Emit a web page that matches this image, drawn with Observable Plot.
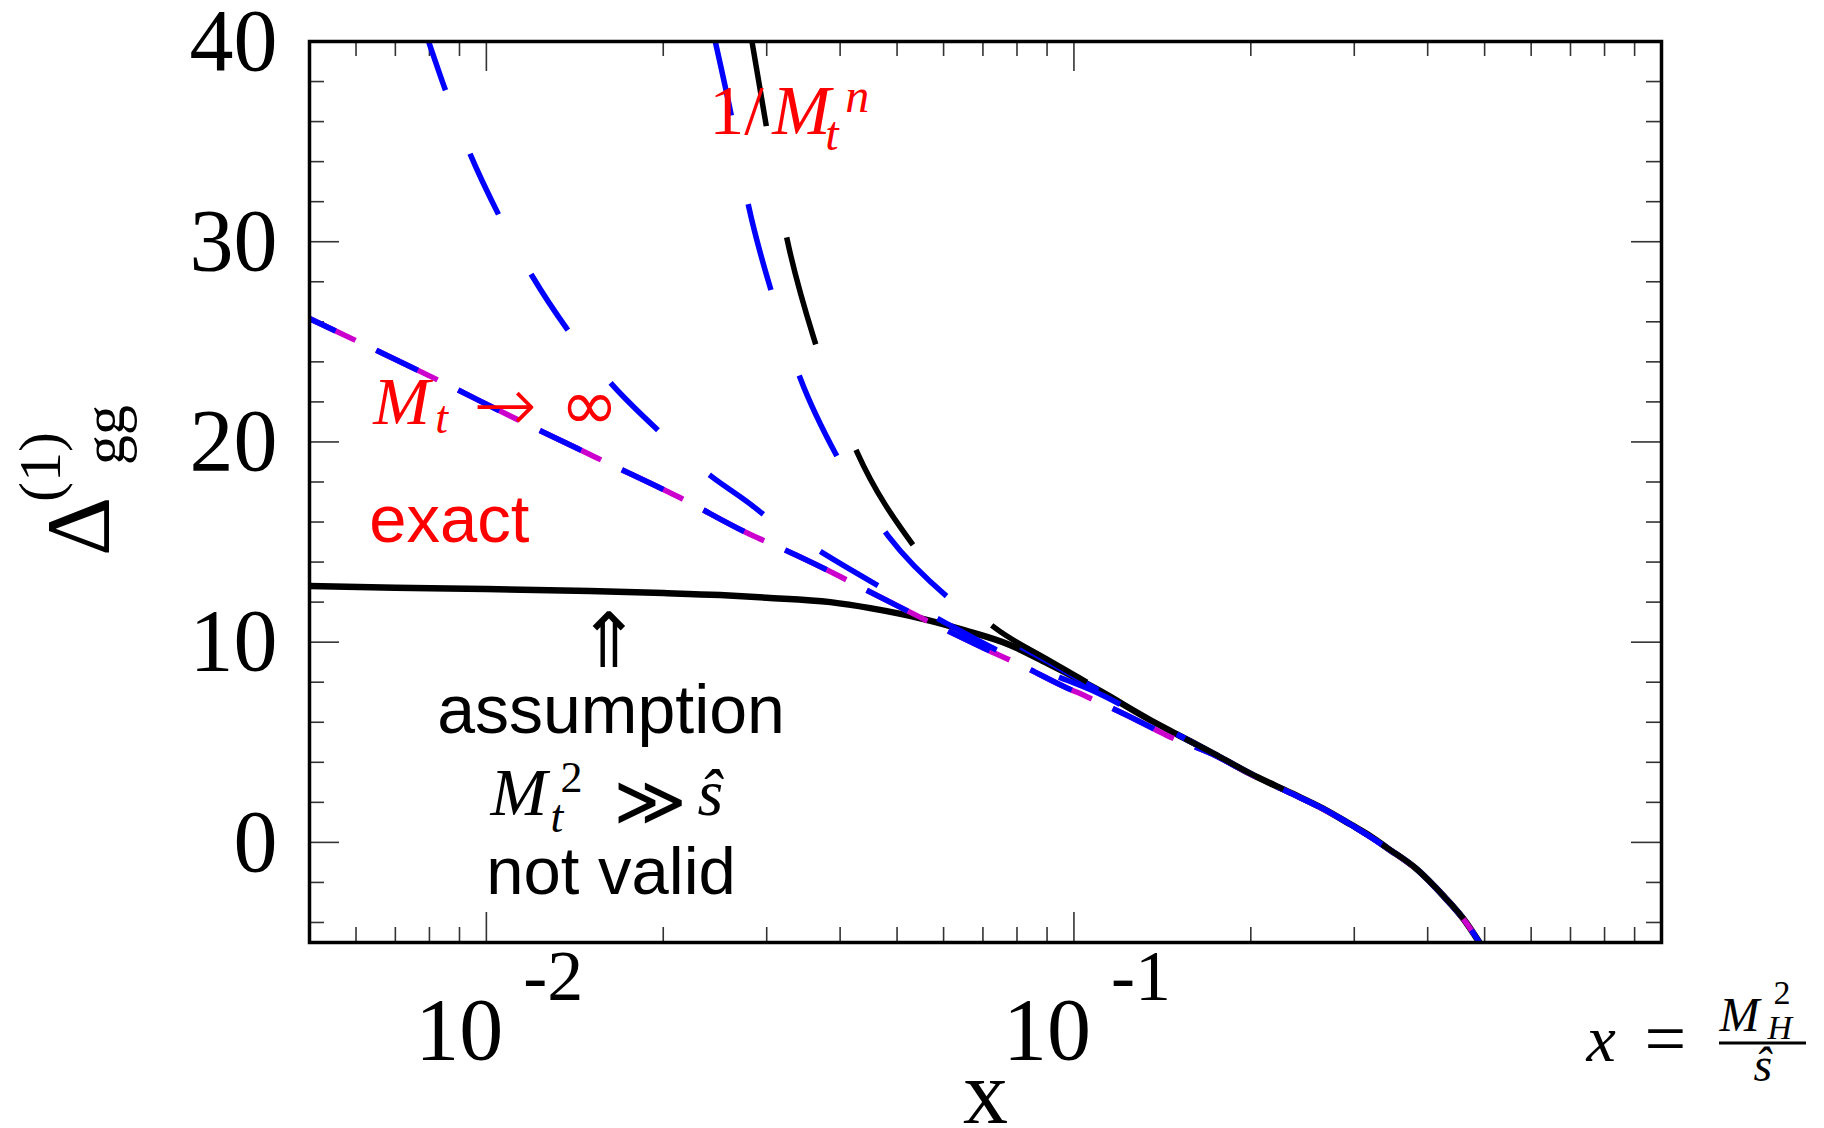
<!DOCTYPE html>
<html>
<head>
<meta charset="utf-8">
<script src="https://cdn.jsdelivr.net/npm/d3@7"></script>
<script src="https://cdn.jsdelivr.net/npm/@observablehq/plot@0.6"></script>
<style>
  html, body { margin: 0; padding: 0; background: #fff; }
  #chart svg { display: block; }
</style>
</head>
<body>
<div id="chart"></div>
<script>
// ---------------- data ----------------
// exact result (black solid)
const exactX = [0.005, 0.007, 0.01, 0.015, 0.02, 0.025, 0.03, 0.0385, 0.045, 0.0555, 0.065, 0.078, 0.09, 0.1094, 0.135, 0.152, 0.175, 0.2, 0.234, 0.265, 0.296, 0.32, 0.341, 0.384, 0.426, 0.461, 0.49];
const exactY = [12.8, 12.72, 12.65, 12.55, 12.45, 12.35, 12.22, 12.0, 11.7, 11.15, 10.6, 9.85, 8.95, 7.65, 6.1, 5.3, 4.35, 3.42, 2.47, 1.7, 0.89, 0.3, -0.27, -1.36, -2.69, -3.85, -5.0];

// M_t -> infinity (magenta dashed)
const mtInfX = [0.005, 0.00813, 0.01127, 0.01543, 0.02138, 0.02813, 0.0317, 0.0403, 0.0436, 0.0551, 0.0703, 0.0821, 0.0961, 0.105, 0.1323, 0.1431, 0.175, 0.2, 0.234, 0.265, 0.296, 0.341, 0.384, 0.426, 0.461, 0.49];
const mtInfY = [26.16, 23.2, 21.13, 19.2, 17.21, 15.38, 14.7, 13.23, 12.71, 11.2, 9.7, 8.79, 7.79, 7.29, 5.89, 5.38, 4.3, 3.4, 2.45, 1.68, 0.88, -0.28, -1.37, -2.7, -3.86, -5.0];

// 1/M_t^n expansions
// n = 0 (blue, on top of the M_t -> infinity curve)
const n0X = [0.005, 0.00813, 0.01127, 0.01543, 0.02138, 0.02813, 0.0317, 0.0403, 0.0436, 0.0551, 0.0703, 0.0821, 0.0961, 0.105, 0.1323, 0.1431, 0.175, 0.2, 0.234, 0.265, 0.296, 0.341, 0.384, 0.426, 0.461, 0.49];
const n0Y = [26.16, 23.2, 21.13, 19.2, 17.21, 15.38, 14.7, 13.23, 12.71, 11.2, 9.7, 8.79, 7.79, 7.29, 5.89, 5.38, 4.3, 3.4, 2.45, 1.68, 0.88, -0.28, -1.37, -2.7, -3.86, -5.0];
// next order (blue)
const nAX = [0.00798, 0.00852, 0.00939, 0.0105, 0.01196, 0.0138, 0.01637, 0.01965, 0.02406, 0.0281, 0.0298, 0.0373, 0.0469, 0.0593, 0.074, 0.09, 0.11, 0.135, 0.152, 0.175, 0.2, 0.234, 0.265, 0.296, 0.341, 0.384, 0.426, 0.461, 0.49];
const nAY = [39.97, 37.56, 34.36, 31.33, 28.3, 25.54, 22.86, 20.55, 18.32, 16.91, 16.32, 14.47, 12.75, 11.1, 9.6, 8.5, 7.45, 6.08, 5.3, 4.33, 3.41, 2.46, 1.69, 0.88, -0.27, -1.36, -2.69, -3.85, -5.0];
// next order (blue)
const nBX = [0.02454, 0.0262, 0.02796, 0.0306, 0.03424, 0.0398, 0.04839, 0.0616, 0.075, 0.09, 0.11, 0.135, 0.152, 0.175, 0.2, 0.234, 0.265, 0.296, 0.341, 0.384, 0.426, 0.461, 0.49];
const nBY = [39.96, 36.1, 31.75, 27.45, 23.16, 19.11, 15.27, 12.14, 10.35, 9.05, 7.6, 6.08, 5.3, 4.34, 3.42, 2.47, 1.7, 0.89, -0.27, -1.36, -2.69, -3.85, -5.0];
// highest order (black dashed)
const nCX = [0.02833, 0.02996, 0.03249, 0.03643, 0.04276, 0.0537, 0.0735, 0.09, 0.1094, 0.135, 0.152, 0.175, 0.2, 0.234, 0.265, 0.296, 0.341, 0.384, 0.426, 0.461, 0.49];
const nCY = [39.96, 35.76, 30.13, 24.79, 19.48, 14.7, 10.7, 9.15, 7.72, 6.12, 5.3, 4.35, 3.42, 2.47, 1.7, 0.89, -0.27, -1.36, -2.69, -3.85, -5.0];

// ticks
const xTickMajor = [0.01, 0.1];
const xTickBase = ["10", "10"];
const xTickExp = ["-2", "-1"];
const yTickMajor = [0, 10, 20, 30, 40];
const yTickLabels = ["0", "10", "20", "30", "40"];

// ---------------- layout ----------------
const W = 1824, H = 1128;
const mL = 309, mR = 163, mT = 41, mB = 186;
const iW = W - mL - mR, iH = H - mT - mB;
const majorLen = 30, minorLen = 15;

const xMinor = [...[6, 7, 8, 9].map(d => d / 1000), ...d3.range(2, 10).map(d => d / 100), ...d3.range(2, 10).map(d => d / 10)];
const yMinor = d3.range(-4, 40, 2).filter(v => v % 10 !== 0);

const serif = "'Liberation Serif', 'Times New Roman', serif";
const sans = "'Liberation Sans', Arial, sans-serif";
const symb = "'DejaVu Sans', sans-serif";
const RED = "#ff0000";

const table = (X, Y) => X.map((x, i) => ({x, y: Y[i]}));
function curve(X, Y, opts) {
  return Plot.line(table(X, Y), {
    x: "x", y: "y", curve: "monotone-x", clip: true,
    strokeLinecap: "butt", strokeLinejoin: "round", ...opts
  });
}
function txt(str, o) {
  return Plot.text([str], {text: d => d, textAnchor: "start", lineAnchor: "bottom", ...o});
}
const at = (x, y) => ({x: () => x, y: () => y});

const tickStyle = {stroke: "#333", strokeWidth: 1.6};

const chart = Plot.plot({
  width: W, height: H,
  marginLeft: mL, marginRight: mR, marginTop: mT, marginBottom: mB,
  style: {background: "#fff", overflow: "visible"},
  x: {type: "log", domain: [0.005, 1], axis: null},
  y: {domain: [-5, 40], axis: null},
  marks: [
    // inward ticks on all four sides
    Plot.ruleX(xMinor, {...tickStyle, insetTop: iH - minorLen}),
    Plot.ruleX(xMinor, {...tickStyle, insetBottom: iH - minorLen}),
    Plot.ruleX(xTickMajor, {...tickStyle, insetTop: iH - majorLen}),
    Plot.ruleX(xTickMajor, {...tickStyle, insetBottom: iH - majorLen}),
    Plot.ruleY(yMinor, {...tickStyle, insetRight: iW - minorLen}),
    Plot.ruleY(yMinor, {...tickStyle, insetLeft: iW - minorLen}),
    Plot.ruleY(yTickMajor, {...tickStyle, insetRight: iW - majorLen}),
    Plot.ruleY(yTickMajor, {...tickStyle, insetLeft: iW - majorLen}),

    // curves
    curve(exactX, exactY, {stroke: "#000", strokeWidth: 6.5}),
    curve(mtInfX, mtInfY, {stroke: "#cc00cc", strokeWidth: 5.5, strokeDasharray: "68,23", strokeDashoffset: 17}),
    curve(n0X, n0Y, {stroke: "#0000ff", strokeWidth: 5.5, strokeDasharray: "46,45", strokeDashoffset: 17}),
    curve(nAX, nAY, {stroke: "#0000ff", strokeWidth: 5.5, strokeDasharray: "67,68", strokeDashoffset: 16}),
    curve(nBX, nBY, {stroke: "#0000ff", strokeWidth: 5.5, strokeDasharray: "89,90", strokeDashoffset: 14}),
    curve(nCX, nCY, {stroke: "#000", strokeWidth: 5.5, strokeDasharray: "111,113", strokeDashoffset: 26}),

    Plot.frame({stroke: "#000", strokeWidth: 3.5}),

    // y tick labels
    Plot.text(yTickMajor, {y: d => d, text: (d, i) => yTickLabels[i], frameAnchor: "left",
      textAnchor: "end", lineAnchor: "middle", dx: -32, fontSize: 88, fontFamily: serif, fill: "#000"}),
    // x tick labels 10^-2, 10^-1
    Plot.text(xTickMajor, {x: d => d, text: (d, i) => xTickBase[i], frameAnchor: "bottom",
      textAnchor: "middle", lineAnchor: "bottom", dx: -27, dy: 116, fontSize: 88, fontFamily: serif, fill: "#000"}),
    Plot.text(xTickMajor, {x: d => d, text: (d, i) => xTickExp[i], frameAnchor: "bottom",
      textAnchor: "start", lineAnchor: "bottom", dx: 37, dy: 57, fontSize: 72, fontFamily: serif, fill: "#000"}),

    // axis titles
    txt("x", {frameAnchor: "bottom", textAnchor: "middle", dy: 180, fontSize: 90, fontFamily: serif}),
    txt("Δ", {frameAnchor: "left", rotate: -90, dx: -201, dy: 64, fontSize: 92, fontFamily: serif}),
    txt("(1)", {frameAnchor: "left", rotate: -90, dx: -250, dy: 10, fontSize: 60, fontFamily: serif}),
    txt("gg", {frameAnchor: "left", rotate: -90, dx: -186, dy: -27, fontSize: 60, fontFamily: serif}),

    // x = M_H^2 / s-hat  (bottom right)
    txt("x", {frameAnchor: "bottom-right", dx: -75, dy: 118, fontSize: 66, fontFamily: serif, fontStyle: "italic"}),
    txt("=", {frameAnchor: "bottom-right", dx: -17, dy: 120, fontSize: 74, fontFamily: serif}),
    Plot.ruleY([-5], {insetLeft: 1719 - mL, insetRight: -(1806 - (W - mR)), dy: 100.5, stroke: "#000", strokeWidth: 3}),
    txt("M", {frameAnchor: "bottom-right", dx: 58, dy: 88, fontSize: 48, fontFamily: serif, fontStyle: "italic"}),
    txt("H", {frameAnchor: "bottom-right", dx: 106, dy: 96, fontSize: 34, fontFamily: serif, fontStyle: "italic"}),
    txt("2", {frameAnchor: "bottom-right", dx: 112, dy: 61, fontSize: 34, fontFamily: serif}),
    txt("ŝ", {frameAnchor: "bottom-right", dx: 92, dy: 138, fontSize: 48, fontFamily: serif, fontStyle: "italic"}),

    // 1/M_t^n
    txt("1/", {...at(0.02396, 35.38), fontSize: 70, fontFamily: serif, fill: RED}),
    txt("M", {...at(0.02396, 35.38), dx: 63, fontSize: 70, fontFamily: serif, fontStyle: "italic", fill: RED}),
    txt("t", {...at(0.02396, 35.38), dx: 116, dy: 16, fontSize: 48, fontFamily: serif, fontStyle: "italic", fill: RED}),
    txt("n", {...at(0.02396, 35.38), dx: 136, dy: -22, fontSize: 48, fontFamily: serif, fontStyle: "italic", fill: RED}),

    // M_t -> infinity
    txt("M", {...at(0.00642, 20.9), fontSize: 68, fontFamily: serif, fontStyle: "italic", fill: RED}),
    txt("t", {...at(0.00642, 20.9), dx: 62, dy: 9, fontSize: 46, fontFamily: serif, fontStyle: "italic", fill: RED}),
    txt("→", {...at(0.00642, 20.9), dx: 100, dy: 7, fontSize: 76, fontFamily: symb, fontWeight: 200, fill: RED}),
    txt("∞", {...at(0.00642, 20.9), dx: 187, dy: 5, fontSize: 70, fontFamily: symb, fill: RED}),

    // exact
    txt("exact", {...at(0.00632, 15.0), fontSize: 67, fontFamily: sans, fill: RED}),

    // assumption note
    txt("⇑", {...at(0.0162, 8.77), textAnchor: "middle", fontSize: 76, fontFamily: symb, fontWeight: 200}),
    txt("assumption", {...at(0.0163, 5.48), textAnchor: "middle", fontSize: 68, fontFamily: sans}),
    txt("M", {...at(0.01016, 1.39), fontSize: 68, fontFamily: serif, fontStyle: "italic"}),
    txt("t", {...at(0.01016, 1.39), dx: 60, dy: 17, fontSize: 46, fontFamily: serif, fontStyle: "italic"}),
    txt("2", {...at(0.01016, 1.39), dx: 70, dy: -23, fontSize: 44, fontFamily: serif}),
    txt("≫", {...at(0.01016, 1.39), dx: 123, dy: 10, fontSize: 70, fontFamily: symb}),
    txt("ŝ", {...at(0.01016, 1.39), dx: 207, fontSize: 66, fontFamily: serif, fontStyle: "italic"}),
    txt("not valid", {...at(0.0163, -2.6), textAnchor: "middle", fontSize: 67, fontFamily: sans})
  ]
});
document.getElementById("chart").appendChild(chart);
</script>
</body>
</html>
